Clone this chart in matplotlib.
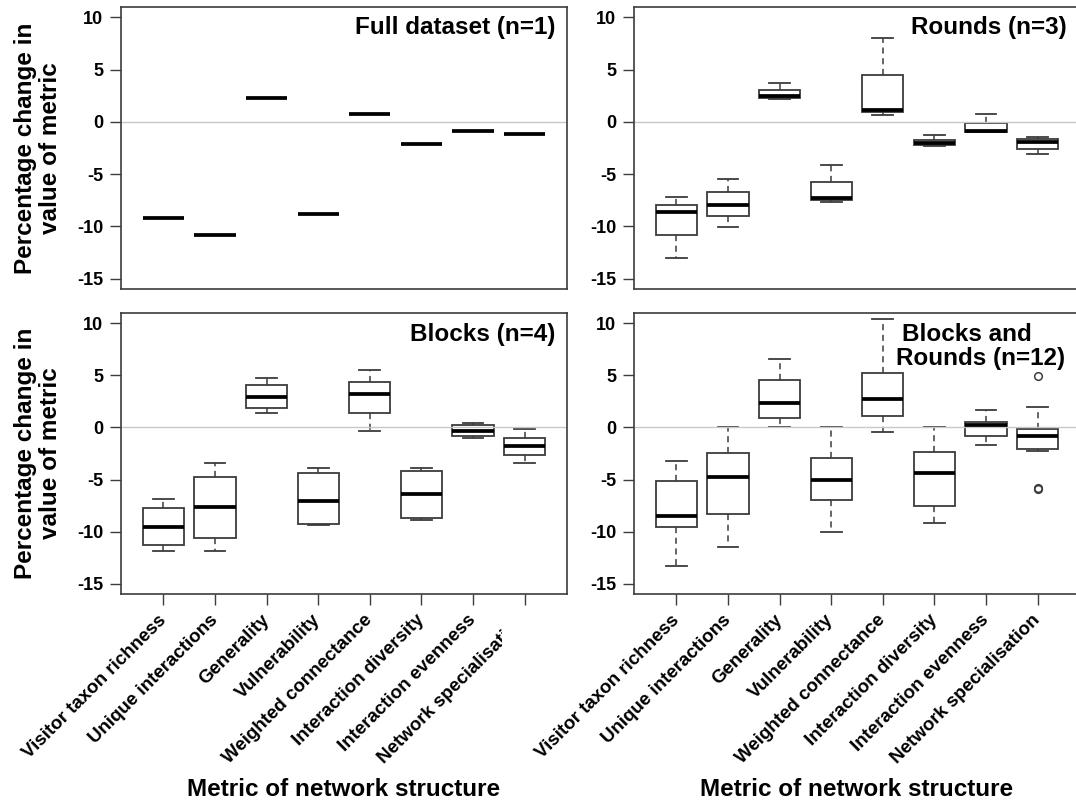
import matplotlib
matplotlib.use("Agg")
import matplotlib.pyplot as plt
from matplotlib.transforms import Bbox, TransformedBbox

plt.rcParams['font.family'] = ['Liberation Sans', 'DejaVu Sans']

# Metrics of network structure (x categories)
metrics = ["Visitor taxon richness", "Unique interactions", "Generality",
           "Vulnerability", "Weighted connectance", "Interaction diversity",
           "Interaction evenness", "Network specialisation"]

# Full dataset: a single value per metric
full_values = [-9.2, -10.85, 2.3, -8.85, 0.8, -2.1, -0.9, -1.2]

# Rounds (n=3)
rounds_low = [-13.0, -10.05, 2.2, -7.7, 0.7, -2.3, -1.0, -3.1]
rounds_q1 = [-10.8, -9.05, 2.3, -7.5, 0.9, -2.2, -0.95, -2.55]
rounds_med = [-8.65, -7.95, 2.45, -7.3, 1.1, -2.0, -0.85, -1.95]
rounds_q3 = [-7.95, -6.75, 3.1, -5.75, 4.5, -1.7, -0.08, -1.65]
rounds_high = [-7.2, -5.45, 3.75, -4.15, 8.05, -1.3, 0.75, -1.4]

# Blocks (n=4)
blocks_low = [-11.85, -11.9, 1.4, -9.4, -0.35, -8.9, -1.0, -3.4]
blocks_q1 = [-11.3, -10.6, 1.9, -9.3, 1.35, -8.65, -0.8, -2.65]
blocks_med = [-9.6, -7.65, 2.9, -7.05, 3.2, -6.4, -0.3, -1.75]
blocks_q3 = [-7.75, -4.8, 4.05, -4.4, 4.4, -4.2, 0.22, -1.0]
blocks_high = [-6.85, -3.4, 4.75, -3.85, 5.5, -3.9, 0.45, -0.1]

# Blocks and rounds (n=12)
both_low = [-13.3, -11.5, 0.0, -10.05, -0.45, -9.2, -1.65, -2.3]
both_q1 = [-9.6, -8.3, 0.9, -6.95, 1.1, -7.55, -0.85, -2.1]
both_med = [-8.5, -4.75, 2.4, -5.0, 2.7, -4.35, 0.2, -0.8]
both_q3 = [-5.1, -2.45, 4.6, -2.9, 5.25, -2.35, 0.55, -0.1]
both_high = [-3.25, 0.0, 6.6, 0.0, 10.45, 0.0, 1.65, 1.95]
both_outliers = [[], [], [], [], [], [], [], [4.95, -5.85, -5.95]]

y_ticks = [-15, -10, -5, 0, 5, 10]

EDGE = '#3c3c3c'
W, H = 1076, 802


def make_stats(low, q1, med, q3, high, outliers=None):
    stats = []
    for i in range(len(med)):
        stats.append(dict(whislo=low[i], q1=q1[i], med=med[i], q3=q3[i],
                          whishi=high[i],
                          fliers=(outliers[i] if outliers else [])))
    return stats


fig = plt.figure(figsize=(W / 100, H / 100), dpi=100)


def px_axes(left, top, right, bottom):
    return fig.add_axes([left / W, 1 - bottom / H, (right - left) / W,
                         (bottom - top) / H])


ax_tl = px_axes(121, 7, 567, 289)
ax_tr = px_axes(634, 7, 1080, 289)
ax_bl = px_axes(121, 313, 567, 594)
ax_br = px_axes(634, 313, 1080, 594)

panels = [
    (ax_tl, make_stats(full_values, full_values, full_values, full_values, full_values)),
    (ax_tr, make_stats(rounds_low, rounds_q1, rounds_med, rounds_q3, rounds_high)),
    (ax_bl, make_stats(blocks_low, blocks_q1, blocks_med, blocks_q3, blocks_high)),
    (ax_br, make_stats(both_low, both_q1, both_med, both_q3, both_high, both_outliers)),
]

positions = list(range(1, len(metrics) + 1))

for ax, stats in panels:
    ax.bxp(stats, positions=positions, widths=0.8, capwidths=0.4,
           patch_artist=True, showfliers=True, manage_ticks=False,
           boxprops=dict(facecolor='white', edgecolor=EDGE, linewidth=1.3),
           medianprops=dict(color='black', linewidth=2.7, solid_capstyle='butt'),
           whiskerprops=dict(color=EDGE, linewidth=1.1, linestyle=(0, (4, 3))),
           capprops=dict(color=EDGE, linewidth=1.3),
           flierprops=dict(marker='o', markerfacecolor='none',
                           markeredgecolor=EDGE, markersize=5.5,
                           markeredgewidth=1.1))
    ax.axhline(0, color='#c8c8c8', linewidth=1.0, zorder=2.05)
    ax.set_xlim(0.18, 8.82)
    ax.set_ylim(-16, 11)
    ax.set_yticks(y_ticks)
    ax.set_yticklabels([str(t) for t in y_ticks], fontsize=13,
                       fontweight='bold')
    ax.tick_params(axis='y', direction='out', length=7.9, width=1.0,
                   color=EDGE, pad=5)
    for sp in ax.spines.values():
        sp.set_color(EDGE)
        sp.set_linewidth(1.2)

for ax in (ax_tl, ax_tr):
    ax.set_xticks([])

for ax in (ax_bl, ax_br):
    ax.set_xticks(positions)
    ax.set_xticklabels(metrics, rotation=45, ha='right', va='center',
                       rotation_mode='anchor', fontsize=13.5,
                       fontweight='bold')
    ax.tick_params(axis='x', direction='out', length=7.9, width=1.0,
                   color=EDGE, pad=9)

# The left panel's category labels run into the right panel and are cut there
clip = TransformedBbox(Bbox([[0, 0], [502 / W, 1]]), fig.transFigure)
for lab in ax_bl.get_xticklabels():
    lab.set_clip_on(True)
    lab.set_clip_box(clip)

title_kw = dict(fontsize=17.5, fontweight='bold', va='center')
ax_tl.text(8.6, 9.0, "Full dataset (n=1)", ha='right', **title_kw)
ax_tr.text(8.56, 9.0, "Rounds (n=3)", ha='right', **title_kw)
ax_bl.text(8.6, 8.95, "Blocks (n=4)", ha='right', **title_kw)
ax_br.text(6.63, 8.95, "Blocks and", ha='center', **title_kw)
ax_br.text(6.9, 6.65, "Rounds (n=12)", ha='center', **title_kw)

for yc in (148, 453):
    fig.text(38 / W, 1 - yc / H, "Percentage change in\nvalue of metric",
             rotation=90, ha='center', va='center', multialignment='center',
             fontsize=17.5, fontweight='bold', linespacing=1.1)

for xc in (344, 857):
    fig.text(xc / W, 1 - 789 / H, "Metric of network structure",
             ha='center', va='center', fontsize=17.5, fontweight='bold')

fig.savefig("out.png", dpi=100, facecolor='white')
